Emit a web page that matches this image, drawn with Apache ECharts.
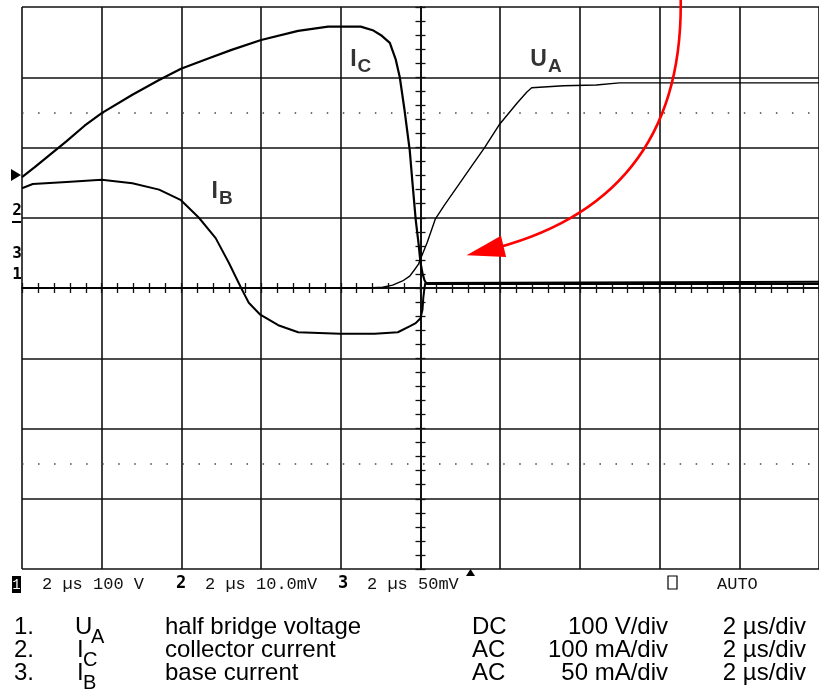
<!DOCTYPE html>
<html>
<head>
<meta charset="utf-8">
<title>Turn-off waveforms</title>
<script src="https://cdn.jsdelivr.net/npm/echarts@6/dist/echarts.min.js"></script>
<style>
  html, body { margin: 0; padding: 0; background: #fff; }
  #chart { width: 819px; height: 690px; }
</style>
</head>
<body>
<div id="chart"></div>
<script>
// time in µs (2 µs/div, 0 = screen centre), amplitude in divisions from centre line
const icTime = [-10, -9.68, -9.38, -8.88, -8.43, -8.00, -7.23, -6.56, -6.01, -5.31, -4.74, -4.00, -3.07, -2.32, -1.50, -1.20, -0.97, -0.77, -0.62, -0.52, -0.40, -0.27, -0.20, -0.12, -0.05, 0.00, 0.05, 0.10, 0.15, 10];
const icDiv = [1.58, 1.72, 1.86, 2.09, 2.31, 2.49, 2.75, 2.96, 3.12, 3.27, 3.39, 3.53, 3.66, 3.72, 3.72, 3.67, 3.59, 3.49, 3.25, 3.00, 2.53, 1.96, 1.49, 0.97, 0.64, 0.36, 0.21, 0.11, 0.06, 0.06];

const ibTime = [-10, -9.73, -8.88, -8.00, -7.23, -6.56, -6.01, -5.56, -5.14, -4.81, -4.51, -4.31, -4.02, -3.57, -3.07, -2.02, -1.15, -0.57, -0.25, -0.12, 0.00, 0.05, 0.07, 0.10, 0.12, 10];
const ibDiv = [1.42, 1.48, 1.51, 1.54, 1.49, 1.40, 1.25, 1.00, 0.71, 0.36, 0.01, -0.21, -0.38, -0.53, -0.63, -0.65, -0.65, -0.63, -0.54, -0.50, -0.43, -0.31, -0.14, 0.00, 0.07, 0.09];

const uaTime = [-10, -1.32, -0.95, -0.70, -0.45, -0.27, -0.15, -0.05, 0.02, 0.17, 0.37, 0.60, 0.92, 1.30, 1.60, 1.97, 2.42, 2.67, 2.79, 3.59, 4.41, 4.99, 10];
const uaDiv = [0, 0, 0.01, 0.04, 0.10, 0.17, 0.26, 0.34, 0.44, 0.65, 0.98, 1.18, 1.44, 1.75, 1.99, 2.32, 2.63, 2.79, 2.85, 2.88, 2.89, 2.92, 2.92];

// dotted 10% / 90% rows of the graticule
const markerLevels = [2.5, -2.5];

// red annotation arrow (start, end) in the same units
const arrowFrom = [6.53, 4.10];
const arrowTo = [1.62, 0.53];

// trace labels: main letter, subscript, centre (µs, div)
const traceLabels = [
  { main: 'I', sub: 'C', at: [-1.50, 3.22] },
  { main: 'U', sub: 'A', at: [3.15, 3.22] },
  { main: 'I', sub: 'B', at: [-4.98, 1.33] }
];

// status line of the scope
const statusParts = ['2 µs 100 V', '2 µs 10.0mV', '2 µs 50mV'];
const statusNums = ['2', '3'];

// channel table under the screen
const chNum = ['1.', '2.', '3.'];
const chSym = ['U', 'I', 'I'];
const chSub = ['A', 'C', 'B'];
const chDesc = ['half bridge voltage', 'collector current', 'base current'];
const chCoupling = ['DC', 'AC', 'AC'];
const chScale = ['100 V/div', '100 mA/div', '50 mA/div'];
const chTime = ['2 µs/div', '2 µs/div', '2 µs/div'];

const zip = (xs, ys) => xs.map((x, i) => [x, ys[i]]);

const chart = echarts.init(document.getElementById('chart'), null, { renderer: 'canvas' });

const gridColor = '#111';
const tickStyle = { color: gridColor, width: 1.3 };

function timeAxis(position) {
  return {
    type: 'value',
    min: -10,
    max: 10,
    interval: 2,
    position: position,
    axisLine: { show: true, onZero: true, onZeroAxisIndex: 0, lineStyle: { color: gridColor, width: 1.8 } },
    axisTick: { show: true, length: 5, lineStyle: tickStyle },
    minorTick: { show: true, splitNumber: 5, length: 5, lineStyle: tickStyle },
    axisLabel: { show: false },
    splitLine: { show: position === 'bottom', lineStyle: { color: gridColor, width: 1.6 } }
  };
}

function divAxis(position) {
  return {
    type: 'value',
    min: -4,
    max: 4,
    interval: 1,
    position: position,
    axisLine: { show: true, onZero: true, onZeroAxisIndex: 0, lineStyle: { color: gridColor, width: 1.8 } },
    axisTick: { show: true, length: 5, lineStyle: tickStyle },
    minorTick: { show: true, splitNumber: 5, length: 5, lineStyle: tickStyle },
    axisLabel: { show: false },
    splitLine: { show: position === 'left', lineStyle: { color: gridColor, width: 1.6 } }
  };
}

const graphic = [];
const statusFont = '17px "Liberation Mono", "DejaVu Sans Mono", monospace';
const statusY = 584;

// channel 1 box
graphic.push({ type: 'rect', shape: { x: 12, y: 576, width: 9, height: 17 }, style: { fill: '#000' } });
graphic.push({ type: 'text', x: 16.5, y: statusY + 1, style: { text: '1', font: '14px "Liberation Mono"', fill: '#fff', align: 'center', verticalAlign: 'middle' } });
[42, 205, 367].forEach((x, i) => {
  graphic.push({ type: 'text', x: x, y: statusY, style: { text: statusParts[i], font: statusFont, fill: '#111', verticalAlign: 'middle' } });
});
[176, 338].forEach((x, i) => {
  graphic.push({ type: 'text', x: x, y: statusY, style: { text: statusNums[i], font: 'bold 17px "DejaVu Sans Mono"', fill: '#000', verticalAlign: 'middle' } });
});
graphic.push({ type: 'polygon', shape: { points: [[466, 576], [470.5, 569], [475, 576]] }, style: { fill: '#000' } });
graphic.push({ type: 'rect', shape: { x: 668, y: 576, width: 9, height: 13 }, style: { fill: 'none', stroke: '#000', lineWidth: 1.2 } });
graphic.push({ type: 'text', x: 717, y: statusY, style: { text: 'AUTO', font: statusFont, fill: '#111', verticalAlign: 'middle' } });

// channel reference markers at left edge
graphic.push({ type: 'polygon', shape: { points: [[11, 169], [21, 175], [11, 181]] }, style: { fill: '#000' } });
graphic.push({ type: 'text', x: 17, y: 211, style: { text: '2', font: 'bold 16px "DejaVu Sans Mono"', fill: '#000', align: 'center', verticalAlign: 'middle' } });
graphic.push({ type: 'rect', shape: { x: 12, y: 221, width: 9, height: 2 }, style: { fill: '#000' } });
graphic.push({ type: 'text', x: 17, y: 254, style: { text: '3', font: 'bold 16px "DejaVu Sans Mono"', fill: '#000', align: 'center', verticalAlign: 'middle' } });
graphic.push({ type: 'text', x: 17, y: 275, style: { text: '1', font: 'bold 16px "DejaVu Sans Mono"', fill: '#000', align: 'center', verticalAlign: 'middle' } });

// channel table
const rowY = [627, 650, 673];
const tableFont = '24px "Liberation Sans", Arial, sans-serif';
const subFont = '20px "Liberation Sans", Arial, sans-serif';
rowY.forEach((y, i) => {
  const t = (x, text, extra) => graphic.push({ type: 'text', x: x, y: y, style: Object.assign({ text: text, font: tableFont, fill: '#000', verticalAlign: 'middle' }, extra || {}) });
  t(14, chNum[i]);
  t(chSym[i] === 'U' ? 75 : 77, chSym[i]);
  graphic.push({ type: 'text', x: chSym[i] === 'U' ? 91 : 83, y: y + 10, style: { text: chSub[i], font: subFont, fill: '#000', verticalAlign: 'middle' } });
  t(165, chDesc[i]);
  t(472, chCoupling[i]);
  t(668, chScale[i], { align: 'right' });
  t(806, chTime[i], { align: 'right' });
});

const traceLine = { type: 'line', showSymbol: false, z: 5 };

chart.setOption({
  animation: false,
  backgroundColor: '#fff',
  grid: { left: 22, top: 7, width: 802, height: 562, show: false },
  xAxis: [timeAxis('bottom'), timeAxis('top')],
  yAxis: [divAxis('left'), divAxis('right')],
  graphic: graphic,
  series: [
    Object.assign({ name: 'IC', data: zip(icTime, icDiv), lineStyle: { color: '#000', width: 2.2 } }, traceLine),
    Object.assign({ name: 'IB', data: zip(ibTime, ibDiv), lineStyle: { color: '#000', width: 2 } }, traceLine),
    Object.assign({
      name: 'UA', data: zip(uaTime, uaDiv), lineStyle: { color: '#000', width: 1.4 },
      markLine: {
        silent: true, symbol: 'none', label: { show: false },
        lineStyle: { color: '#444', width: 1.5, type: [1.5, 14.54] },
        data: markerLevels.map(v => ({ yAxis: v }))
      }
    }, traceLine),
    {
      name: 'arrow', type: 'lines', coordinateSystem: 'cartesian2d', z: 10, clip: false,
      symbol: ['none', 'triangle'], symbolSize: [0, [22, 38]],
      lineStyle: { color: '#ff0000', width: 2.6, curveness: 0.4, opacity: 1 },
      data: [{ coords: [arrowFrom, arrowTo] }]
    },
    {
      name: 'labels', type: 'scatter', symbolSize: 0, z: 6, silent: true,
      data: traceLabels.map(d => ({ value: d.at, main: d.main, sub: d.sub })),
      label: {
        show: true, position: 'inside',
        formatter: p => '{m|' + p.data.main + '}{s|' + p.data.sub + '}',
        rich: {
          m: { fontFamily: 'Liberation Sans', fontWeight: 'bold', fontSize: 23, color: '#000', verticalAlign: 'top', padding: [0, 1, 0, 0] },
          s: { fontFamily: 'Liberation Sans', fontWeight: 'bold', fontSize: 19, color: '#000', verticalAlign: 'bottom', padding: [9, 0, 0, 0] }
        }
      }
    }
  ]
});
</script>
</body>
</html>
